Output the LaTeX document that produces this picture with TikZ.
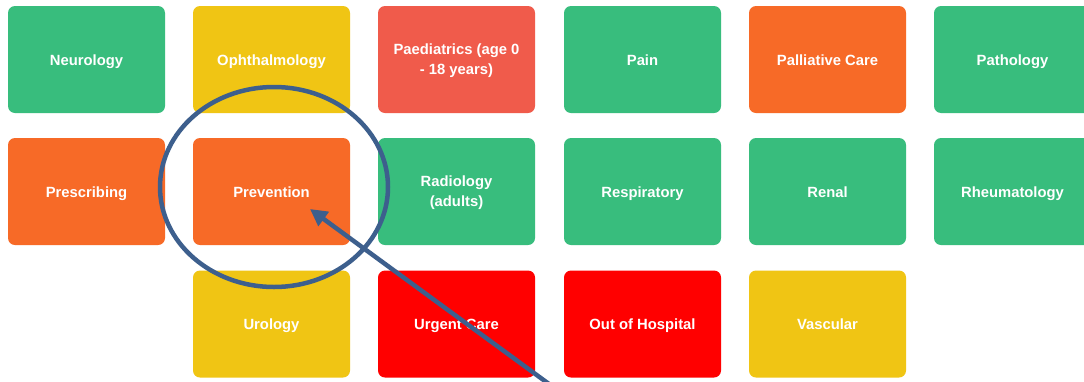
\documentclass[tikz,border=0pt]{standalone}
\usepackage{fontspec}
\setmainfont{Liberation Sans}
\usetikzlibrary{shapes.geometric,arrows.meta}
\definecolor{tgreen}{HTML}{38BD7D}
\definecolor{tyellow}{HTML}{F0C514}
\definecolor{torange}{HTML}{F76A27}
\definecolor{tsalmon}{HTML}{F05B4B}
\definecolor{tred}{HTML}{FF0000}
\definecolor{tblue}{HTML}{3D5F8D}
\tikzset{
  tilebase/.style={rectangle, rounded corners=7pt, minimum width=157pt, minimum height=107pt,
    inner sep=0pt, text=white, align=center,
    font=\fontsize{14.8pt}{20pt}\selectfont\bfseries},
  tile/.style={tilebase, text height=13pt, text depth=1.4pt},
  tiletwo/.style={tilebase, text height=33pt, text depth=3.4pt},
  mark circle/.style={ellipse, draw=tblue, line width=4.5pt, minimum width=228pt, minimum height=200pt, inner sep=0pt},
  pointer/.style={draw=tblue, line width=4.5pt, -{Triangle[length=17pt,width=17pt]}}
}
\begin{document}
\begin{tikzpicture}[x=1pt,y=-1pt]
\useasboundingbox (0,0) rectangle (1084,381);
\clip (0,0) rectangle (1084,381);
\fill[white] (0,0) rectangle (1084,381);
% row 1
\node[tile, fill=tgreen]  (neuro)  at (86.5,59.5)  {Neurology};
\node[tile, fill=tyellow] (ophth)  at (271.5,59.5) {Ophthalmology};
\node[tiletwo, fill=tsalmon] (paed) at (456.5,59.5) {Paediatrics (age 0\\- 18 years)};
\node[tile, fill=tgreen]  (pain)   at (642.5,59.5) {Pain};
\node[tile, fill=torange] (pall)   at (827.5,59.5) {Palliative Care};
\node[tile, fill=tgreen]  (path)   at (1012.5,59.5) {Pathology};
% row 2
\node[tile, fill=torange] (presc)  at (86.5,191.5)  {Prescribing};
\node[tile, fill=torange] (prev)   at (271.5,191.5) {Prevention};
\node[tiletwo, fill=tgreen] (radio) at (456.5,191.5) {Radiology\\(adults)};
\node[tile, fill=tgreen]  (resp)   at (642.5,191.5) {Respiratory};
\node[tile, fill=tgreen]  (renal)  at (827.5,191.5) {Renal};
\node[tile, fill=tgreen]  (rheum)  at (1012.5,191.5) {Rheumatology};
% row 3
\node[tile, fill=tyellow] (uro)    at (271.5,324) {Urology};
\node[tile, fill=tred]    (urgent) at (456.5,324) {Urgent Care};
\node[tile, fill=tred]    (ooh)    at (642.5,324) {Out of Hospital};
\node[tile, fill=tyellow] (vasc)   at (827.5,324) {Vascular};
% highlight
\node[mark circle] (ring) at (274,187) {};
\coordinate (tip) at (310,209);
\coordinate (tail) at (564,395);
\draw[pointer] (tail) -- (tip);
\end{tikzpicture}
\end{document}
